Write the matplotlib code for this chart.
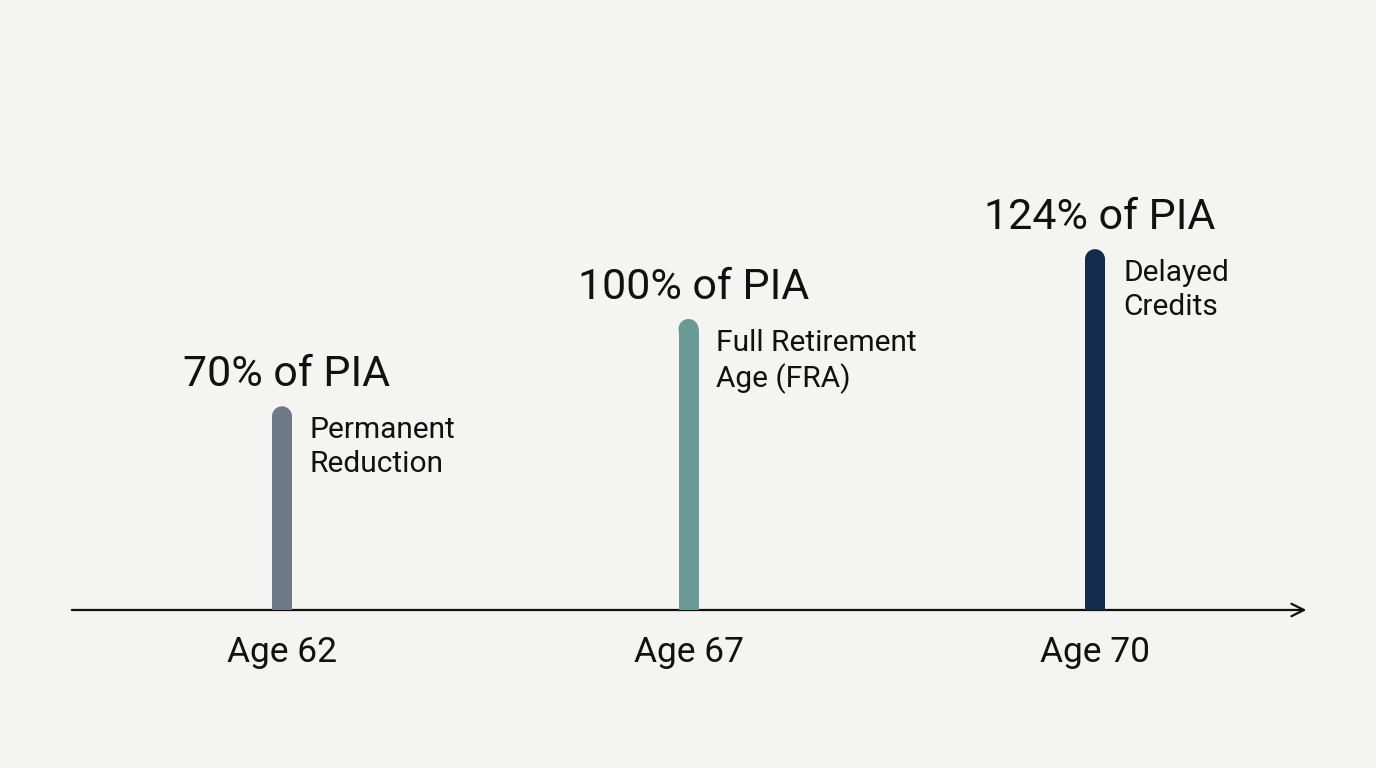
import matplotlib.pyplot as plt
import numpy as np

plt.rcParams['font.family'] = ['Roboto', 'DejaVu Sans']

# data
ages = ['Age 62', 'Age 67', 'Age 70']
pct_of_pia = [70, 100, 124]
notes = ['Permanent\nReduction', 'Full Retirement\nAge (FRA)', 'Delayed\nCredits']
colors = ['#6e7a89', '#6b9995', '#142c4b']

bg = '#f4f4f1'
fig = plt.figure(figsize=(13.76, 7.68), dpi=100, facecolor=bg)
ax = fig.add_axes([0, 0, 1, 1])
ax.set_facecolor(bg)
ax.axis('off')

px_x = 406.5   # pixels per category step
px_y = 2.91    # pixels per percent
ax.set_xlim(-282 / px_x, (1376 - 282) / px_x)
ax.set_ylim(-158 / px_y, 610 / px_y)

x = np.arange(len(ages))
w = 20 / px_x
r = 10 / px_y  # radius of rounded top in data units
vals = np.array(pct_of_pia, dtype=float)

# bars with rounded tops
ax.bar(x, vals - r, width=w, color=colors, zorder=2)
ax.scatter(x, vals - r, s=(20 * 72 / 100) ** 2, color=colors, marker='o',
           linewidths=0, zorder=2)

# axis with arrow
ax.annotate('', xy=(2.52, 0), xytext=(-0.517, 0),
            arrowprops=dict(arrowstyle='->,head_length=0.9,head_width=0.45',
                            color='#111111', lw=1.6, shrinkA=0, shrinkB=0),
            zorder=1)

for xi, v, a, n in zip(x, vals, ages, notes):
    ax.annotate(f'{int(v)}% of PIA', xy=(xi, v), xytext=(5, 20), textcoords='offset pixels',
                ha='center', va='baseline', fontsize=31, color='#111111')
    ax.annotate(n, xy=(xi + w / 2, v), xytext=(18, -10), textcoords='offset pixels',
                ha='left', va='top', fontsize=21.5, color='#111111', linespacing=1.25)
    ax.annotate(a, xy=(xi, 0), xytext=(0, -26), textcoords='offset pixels',
                ha='center', va='top', fontsize=25.5, color='#111111')

fig.savefig('out.png', dpi=100, facecolor=bg)
